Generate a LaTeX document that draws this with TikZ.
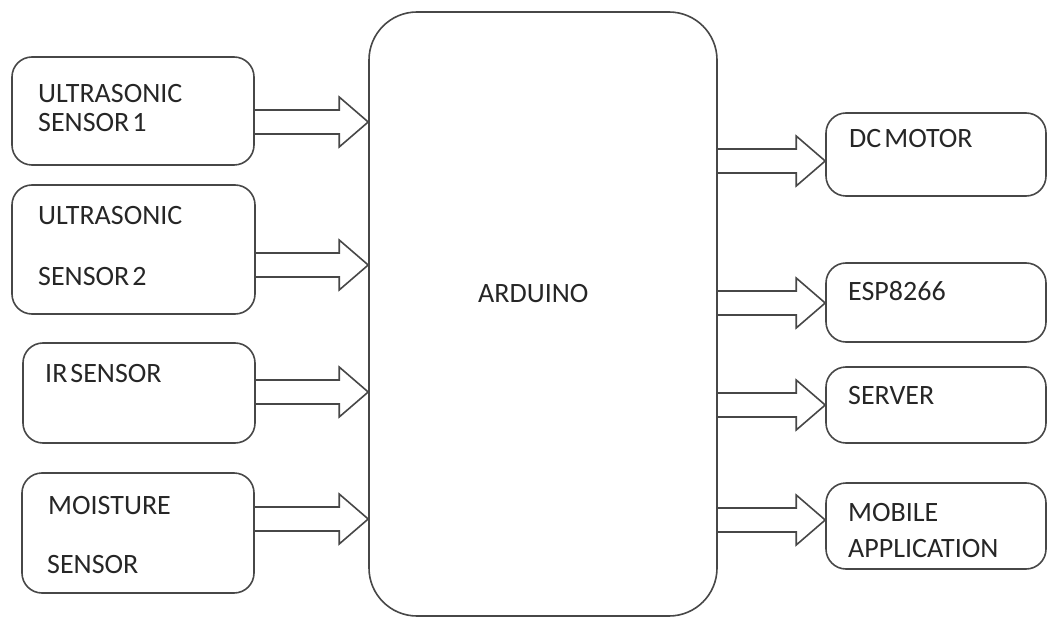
\documentclass[tikz,border=0pt]{standalone}
\usepackage{fontspec}
\setmainfont{Carlito}
\usetikzlibrary{calc}
\tikzset{
  ln/.style={draw=black!72, line width=1.6pt},
  box/.style={ln, rounded corners=20pt, inner sep=0pt},
  bigbox/.style={ln, rounded corners=48pt, inner sep=0pt},
  lbl/.style={anchor=base west, inner sep=0pt, text=black!85, font=\fontsize{28}{33}\selectfont},
  arr/.style={ln, line join=miter}
}
\newcommand\blockarrow[3]{%
  \draw[arr] let \p1=(#1.east), \p2=(#2.west), \p3=(0,#3) in
    (\x1,\y3+12pt) -- (\x2-29pt,\y3+12pt) -- (\x2-29pt,\y3+25pt) -- (\x2,\y3)
    -- (\x2-29pt,\y3-25pt) -- (\x2-29pt,\y3-12pt) -- (\x1,\y3-12pt);}
\begin{document}
\begin{tikzpicture}[x=1pt,y=-1pt]
\useasboundingbox (0,0) rectangle (1048,617);
% central block
\node[bigbox, minimum width=348pt, minimum height=604pt] (ard) at (543,314) {};
\node[lbl] (tard) at (478,302) {ARDUINO};
% inputs
\node[box, minimum width=242pt, minimum height=108pt] (us1) at (133,111) {};
\node[lbl] (tus1a) at (38,103) {ULTRASONIC};
\node[lbl] (tus1b) at (38,132) {SENSOR\hspace{3pt}1};
\node[box, minimum width=243pt, minimum height=129pt] (us2) at (133.5,249.5) {};
\node[lbl] (tus2a) at (38,225) {ULTRASONIC};
\node[lbl] (tus2b) at (38,285) {SENSOR\hspace{3pt}2};
\node[box, minimum width=232pt, minimum height=100pt] (ir) at (139,393) {};
\node[lbl] (tir) at (45,382) {IR\hspace{3pt}SENSOR};
\node[box, minimum width=232pt, minimum height=120pt] (mo) at (138,533) {};
\node[lbl] (tmoa) at (48,514) {MOISTURE};
\node[lbl] (tmob) at (47,573) {SENSOR};
% outputs
\node[box, minimum width=220pt, minimum height=83pt] (dc) at (936,154.5) {};
\node[lbl] (tdc) at (849,148) {DC\hspace{3pt}MOTOR};
\node[box, minimum width=220pt, minimum height=79pt] (esp) at (936,302.5) {};
\node[lbl] (tesp) at (848,300) {ESP8266};
\node[box, minimum width=220pt, minimum height=76pt] (srv) at (936,405) {};
\node[lbl] (tsrv) at (848,404) {SERVER};
\node[box, minimum width=220pt, minimum height=86pt] (mob) at (936,526) {};
\node[lbl] (tmoba) at (848,521) {MOBILE};
\node[lbl] (tmobb) at (848,557) {APPLICATION};
% arrows
\blockarrow{us1}{ard}{122}
\blockarrow{us2}{ard}{265}
\blockarrow{ir}{ard}{392}
\blockarrow{mo}{ard}{519}
\blockarrow{ard}{dc}{161}
\blockarrow{ard}{esp}{303}
\blockarrow{ard}{srv}{405}
\blockarrow{ard}{mob}{520}
\end{tikzpicture}
\end{document}
